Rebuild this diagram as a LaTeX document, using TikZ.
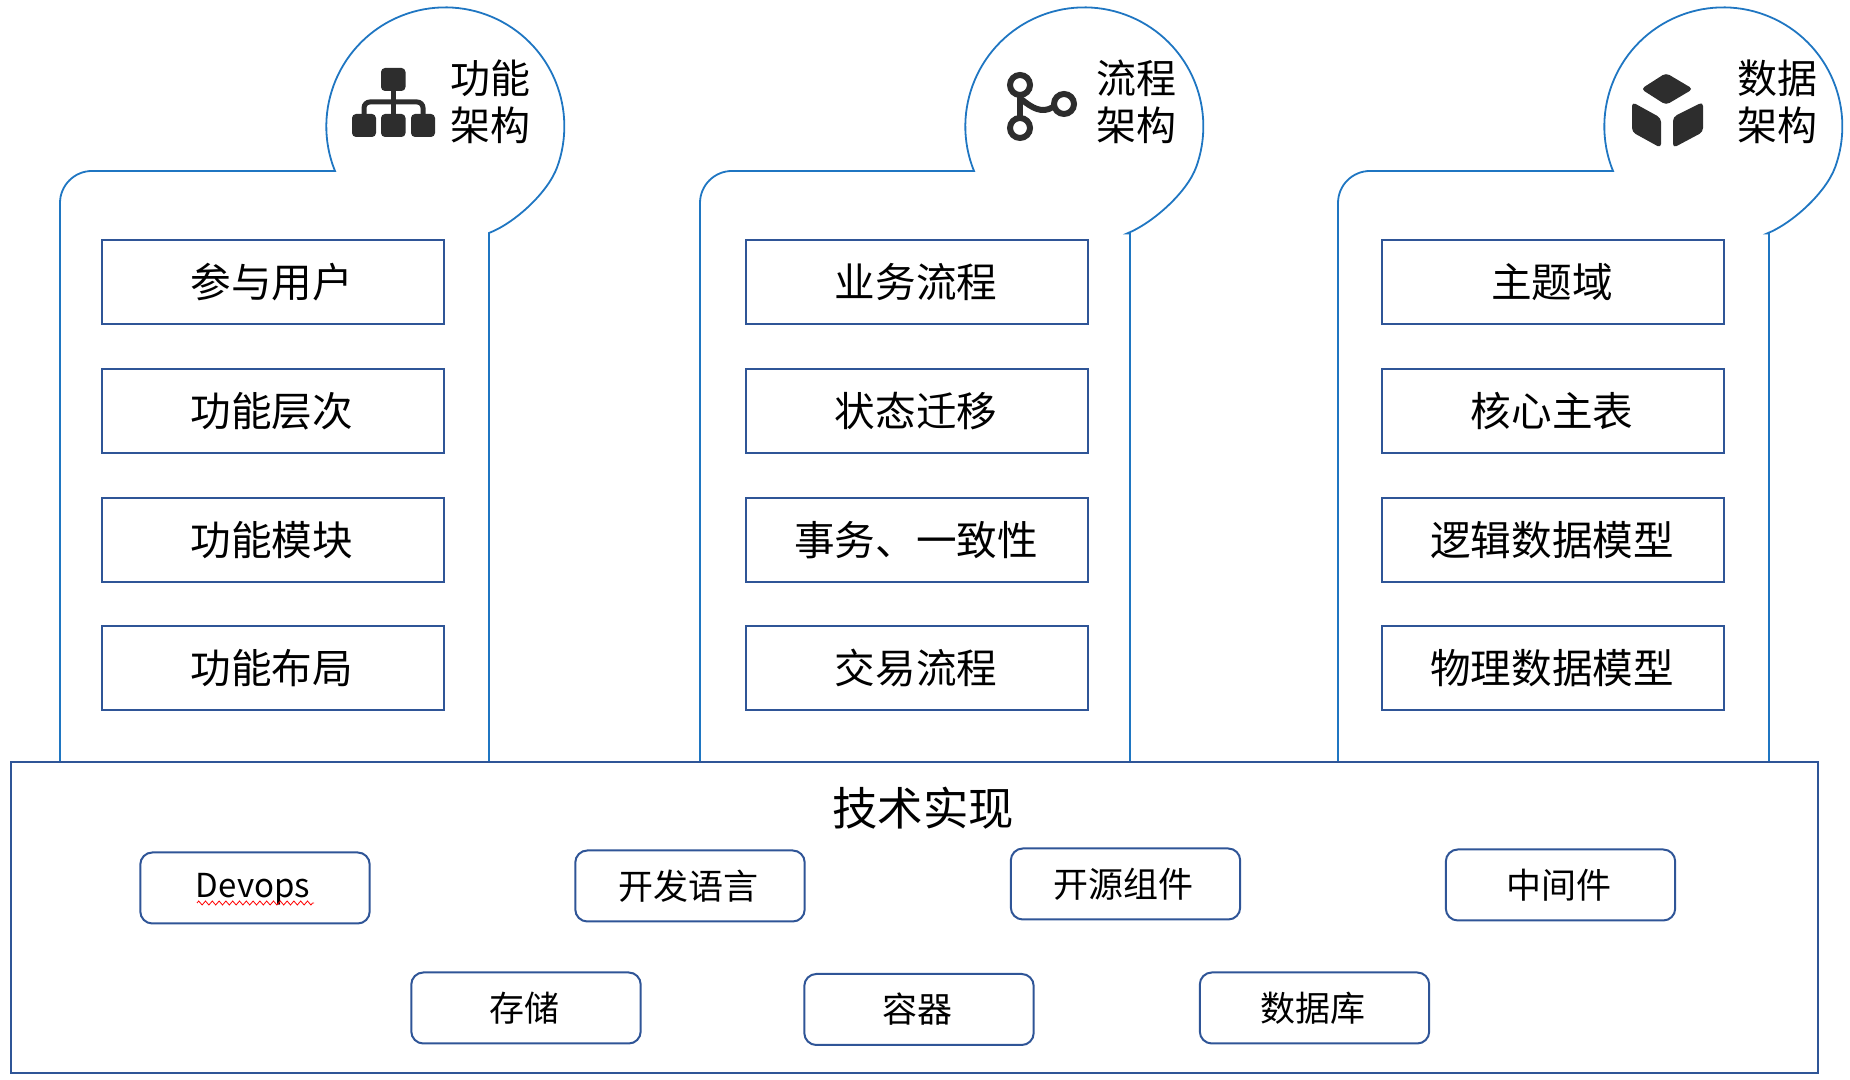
\documentclass[tikz,border=0pt]{standalone}
\usepackage{fontspec}
\setmainfont{Noto Sans CJK SC}
\usetikzlibrary{decorations.pathmorphing}
\definecolor{panelblue}{HTML}{1F76C2}
\definecolor{boxblue}{HTML}{2F5597}
\definecolor{icongray}{HTML}{2D2D2D}
\tikzset{
    panel/.style={draw=panelblue,line width=0.9pt},
    itembox/.style={draw=boxblue,line width=1pt,minimum width=171pt,minimum height=42pt,inner sep=0pt,font=\fontsize{20.3}{24}\selectfont,execute at end node=\kern1pt},
    techbox/.style={draw=boxblue,line width=1pt,rounded corners=6pt,minimum width=114.7pt,minimum height=35.5pt,inner sep=0pt,font=\fontsize{17.5}{20}\selectfont,execute at end node=\kern2pt},
    headtext/.style={align=center,inner sep=0pt,font=\fontsize{20}{23.5}\selectfont},
    icon/.style={fill=icongray,rounded corners=2pt},
    iconline/.style={draw=icongray,line width=3pt}
}

\begin{document}
\begin{tikzpicture}[x=0.5pt,y=0.5pt]
    \useasboundingbox (0,0) rectangle (1850,1080);
    % Draw panels with their round heads
    \draw [panel] (60,318) -- (60,877) arc[start angle=180,end angle=90,radius=32]
        -- (335,909) arc[start angle=202,end angle=-20,radius=119]
        .. controls +(-9,-25) and (515,857) .. (489,847) -- (489,318);
    \draw [panel] (700,318) -- (700,877) arc[start angle=180,end angle=90,radius=32]
        -- (974,909) arc[start angle=202,end angle=-20,radius=119]
        .. controls +(-9,-25) and (1153,857) .. (1127,846.5) -- (1130,846.5) -- (1130,318);
    \draw [panel] (1338,318) -- (1338,877) arc[start angle=180,end angle=90,radius=32]
        -- (1613,909) arc[start angle=202,end angle=-20,radius=119]
        .. controls +(-9,-25) and (1793,857) .. (1767,846.5) -- (1769,846.5) -- (1769,318);

    % Head labels
    \node [headtext] (headfunc) at (490,978) {功能\\架构};
    \node [headtext] (headflow) at (1136,978) {流程\\架构};
    \node [headtext] (headdata) at (1777,978) {数据\\架构};

    % Draw tree icon
    \draw [iconline,line width=2.5pt] (393,989) -- (393,966);
    \draw [iconline,line width=2.5pt,rounded corners=3pt] (364,966) |- (423,978) -- (423,966);
    \fill [icon] (381,989) rectangle (405.5,1012);
    \fill [icon] (352,943) rectangle (376,966);
    \fill [icon] (381,943) rectangle (405.5,966);
    \fill [icon] (411,943) rectangle (435,966);

    % Draw branch icon
    \draw [iconline] (1020,985) -- (1020,962);
    \draw [iconline] (1021,981) .. controls (1032,972) and (1042,966) .. (1053,973);
    \draw [iconline] (1020,995) circle (10);
    \draw [iconline] (1020,952) circle (10);
    \draw [iconline] (1064,976) circle (10);

    % Draw cube icon
    \fill [icon] (1666,1007) -- (1693,991) -- (1666,975) -- (1641,991) -- cycle;
    \fill [icon] (1632,978) -- (1661,962) -- (1661,932) -- (1632,948) -- cycle;
    \fill [icon] (1703,978) -- (1673,963) -- (1673,932) -- (1703,948) -- cycle;

    % First column
    \node [itembox] (user) at (272.8,798) {参与用户};
    \node [itembox] (level) at (272.8,669) {功能层次};
    \node [itembox] (module) at (272.8,539.5) {功能模块};
    \node [itembox] (layout) at (272.8,412) {功能布局};

    % Second column
    \node [itembox] (business) at (917,798) {业务流程};
    \node [itembox] (state) at (917,669) {状态迁移};
    \node [itembox] (affair) at (917,539.5) {事务、一致性};
    \node [itembox] (trade) at (917,412) {交易流程};

    % Third column
    \node [itembox] (domain) at (1553,798) {主题域};
    \node [itembox] (master) at (1553,669) {核心主表};
    \node [itembox] (logical) at (1553,539.5) {逻辑数据模型};
    \node [itembox] (physical) at (1553,412) {物理数据模型};

    % Draw technology base
    \node [draw=boxblue,line width=1pt,minimum width=903.5pt,minimum height=155.5pt,inner sep=0pt] (base) at (914.5,162.5) {};
    \node [inner sep=0pt,font=\fontsize{22.7}{26}\selectfont] (basetitle) at (923,272) {技术实现};

    \node [techbox,font=\fontsize{16.5}{20}\selectfont] (devops) at (255,192) {\raisebox{-5pt}[0pt][0pt]{Devops}};
    \node [techbox] (language) at (690,194) {开发语言};
    \node [techbox] (opensrc) at (1125.5,196) {开源组件};
    \node [techbox] (middle) at (1560.5,195) {中间件};
    \node [techbox] (storage) at (526,72) {存储};
    \node [techbox] (container) at (919,70.5) {容器};
    \node [techbox] (database) at (1314.5,72) {数据库};

    % Wavy mark under Devops
    \draw [red,line width=0.4pt,decorate,decoration={zigzag,segment length=3.4pt,amplitude=1pt}] (197,177) -- (314,177);
\end{tikzpicture}
\end{document}
